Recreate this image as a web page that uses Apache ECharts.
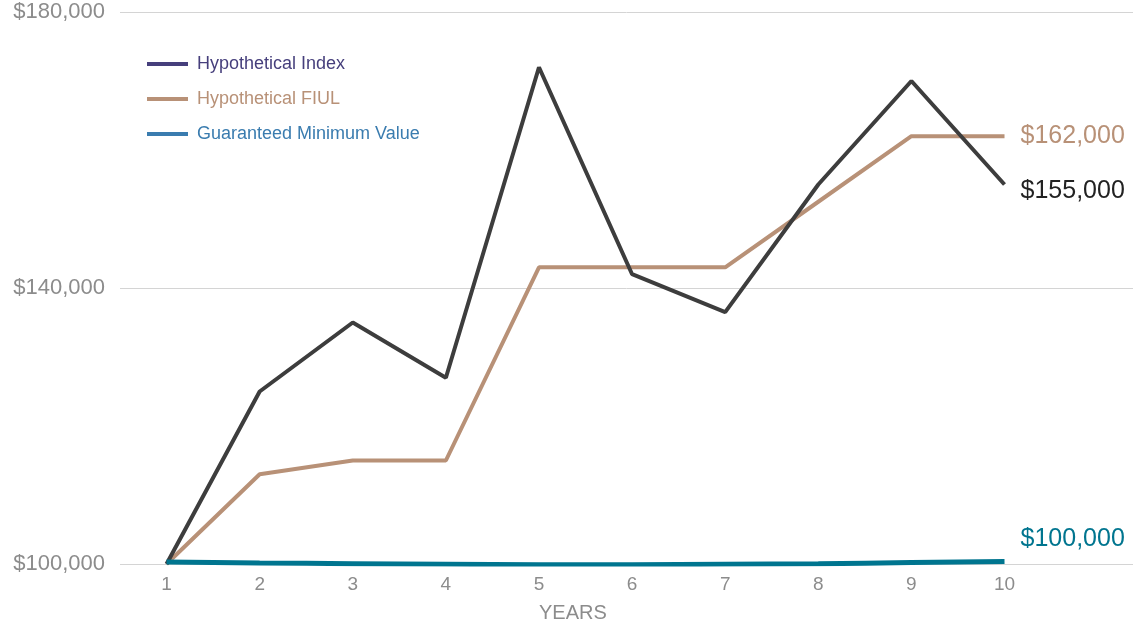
<!DOCTYPE html>
<html><head><meta charset="utf-8">
<script src="https://cdn.jsdelivr.net/npm/echarts@6/dist/echarts.min.js"></script>
<style>html,body{margin:0;padding:0;background:#fff}#c{width:1133px;height:624px}</style>
</head><body><div id="c"></div>
<script>
const years = [1,2,3,4,5,6,7,8,9,10];
const indexValues = [100000,125000,135000,127000,172000,142000,136500,155000,170000,155000];
const fiulValues = [100000,113000,115000,115000,143000,143000,143000,152500,162000,162000];
const gmvValues = [100300,100150,100050,99950,99900,99900,99950,100050,100200,100350];
const yTicks = [100000,140000,180000];
const seriesNames = ['Hypothetical Index','Hypothetical FIUL','Guaranteed Minimum Value'];

const FONT = '"Liberation Sans", Arial, sans-serif';
const fmt = v => '$' + Math.round(v).toLocaleString('en-US');
const pair = arr => arr.map((v,i)=>[years[i], v]);

const chart = echarts.init(document.getElementById('c'));
chart.setOption({
  animation:false,
  textStyle:{fontFamily:FONT},
  grid:{left:120,right:0,top:12,bottom:60},
  legend:{
    orient:'vertical', left:147, top:55, itemGap:17, padding:0,
    icon:'rect', itemWidth:41, itemHeight:4,
    textStyle:{fontSize:18,fontFamily:FONT,padding:[0,0,0,4]},
    data:[
      {name:seriesNames[0], itemStyle:{color:'#463f7c'}, textStyle:{color:'#463f7c'}},
      {name:seriesNames[1], itemStyle:{color:'#b89177'}, textStyle:{color:'#b89177'}},
      {name:seriesNames[2], itemStyle:{color:'#3a7caf'}, textStyle:{color:'#3a7caf'}}
    ]
  },
  xAxis:{
    type:'value', min:0.5, max:11.38,
    axisLine:{show:false}, axisTick:{show:false}, splitLine:{show:false},
    axisLabel:{customValues:years, color:'#8c8c8c', fontSize:19, margin:11, fontFamily:FONT}
  },
  yAxis:{
    type:'value', min:100000, max:180000, interval:40000,
    axisLine:{show:false}, axisTick:{show:false},
    splitLine:{lineStyle:{color:'#d4d4d4',width:1}},
    axisLabel:{formatter:v=>fmt(v), color:'#8c8c8c', fontSize:22, margin:15, fontFamily:FONT}
  },
  graphic:[{type:'text', left:539, top:603, style:{text:'YEARS', fill:'#8c8c8c', fontSize:20, fontFamily:FONT}}],
  series:[
    {name:seriesNames[0], type:'line', data:pair(indexValues), showSymbol:false, z:3,
     lineStyle:{color:'#3d3d3d',width:4}, itemStyle:{color:'#3d3d3d'},
     endLabel:{show:true, formatter:p=>fmt(p.value[1]), color:'#222', fontSize:25, distance:16, offset:[0,7], fontFamily:FONT}},
    {name:seriesNames[1], type:'line', data:pair(fiulValues), showSymbol:false, z:2,
     lineStyle:{color:'#b89177',width:4}, itemStyle:{color:'#b89177'},
     endLabel:{show:true, formatter:p=>fmt(p.value[1]), color:'#b89177', fontSize:25, distance:16, fontFamily:FONT}},
    {name:seriesNames[2], type:'line', data:pair(gmvValues), showSymbol:false, smooth:true, z:4,
     lineStyle:{color:'#00758f',width:5}, itemStyle:{color:'#00758f'},
     endLabel:{show:true, formatter:()=>fmt(100000), color:'#00758f', fontSize:25, distance:16, offset:[0,-22], fontFamily:FONT}}
  ]
});
</script></body></html>
